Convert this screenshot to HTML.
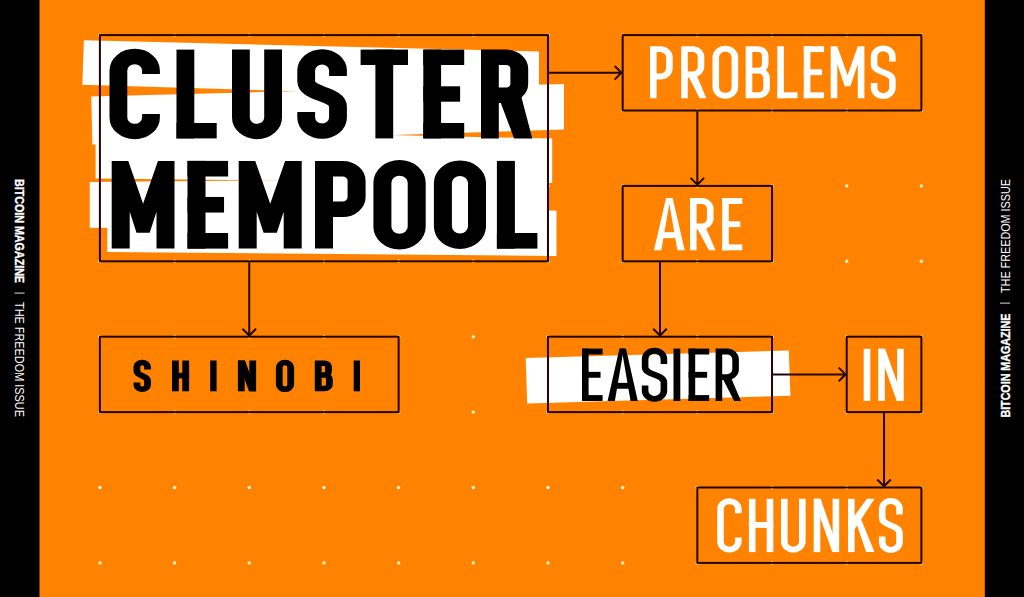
<!DOCTYPE html>
<html><head><meta charset="utf-8"><title>Cluster Mempool - Shinobi</title>
<style>
html,body{margin:0;padding:0;background:#ff8300;overflow:hidden;}
body{width:1024px;height:597px;font-family:"Liberation Sans",sans-serif;}
svg{display:block;}
</style></head><body>
<svg width="1024" height="597" viewBox="0 0 1024 597" role="img" aria-label="Cluster Mempool: problems are easier in chunks, by Shinobi. Bitcoin Magazine, The Freedom Issue">
<rect x="0" y="0" width="1024" height="597" fill="#ff8300"/>
<circle cx="99.9" cy="35.1" r="1.7" fill="#fff5d2"/>
<circle cx="99.9" cy="110.5" r="1.7" fill="#fff5d2"/>
<circle cx="99.9" cy="185.9" r="1.7" fill="#fff5d2"/>
<circle cx="99.9" cy="261.3" r="1.7" fill="#fff5d2"/>
<circle cx="99.9" cy="336.7" r="1.7" fill="#fff5d2"/>
<circle cx="99.9" cy="412.1" r="1.7" fill="#fff5d2"/>
<circle cx="99.9" cy="487.5" r="1.7" fill="#fff5d2"/>
<circle cx="99.9" cy="562.9" r="1.7" fill="#fff5d2"/>
<circle cx="174.58" cy="35.1" r="1.7" fill="#fff5d2"/>
<circle cx="174.58" cy="110.5" r="1.7" fill="#fff5d2"/>
<circle cx="174.58" cy="185.9" r="1.7" fill="#fff5d2"/>
<circle cx="174.58" cy="261.3" r="1.7" fill="#fff5d2"/>
<circle cx="174.58" cy="336.7" r="1.7" fill="#fff5d2"/>
<circle cx="174.58" cy="412.1" r="1.7" fill="#fff5d2"/>
<circle cx="174.58" cy="487.5" r="1.7" fill="#fff5d2"/>
<circle cx="174.58" cy="562.9" r="1.7" fill="#fff5d2"/>
<circle cx="249.26" cy="35.1" r="1.7" fill="#fff5d2"/>
<circle cx="249.26" cy="110.5" r="1.7" fill="#fff5d2"/>
<circle cx="249.26" cy="185.9" r="1.7" fill="#fff5d2"/>
<circle cx="249.26" cy="261.3" r="1.7" fill="#fff5d2"/>
<circle cx="249.26" cy="336.7" r="1.7" fill="#fff5d2"/>
<circle cx="249.26" cy="412.1" r="1.7" fill="#fff5d2"/>
<circle cx="249.26" cy="487.5" r="1.7" fill="#fff5d2"/>
<circle cx="249.26" cy="562.9" r="1.7" fill="#fff5d2"/>
<circle cx="323.94" cy="35.1" r="1.7" fill="#fff5d2"/>
<circle cx="323.94" cy="110.5" r="1.7" fill="#fff5d2"/>
<circle cx="323.94" cy="185.9" r="1.7" fill="#fff5d2"/>
<circle cx="323.94" cy="261.3" r="1.7" fill="#fff5d2"/>
<circle cx="323.94" cy="336.7" r="1.7" fill="#fff5d2"/>
<circle cx="323.94" cy="412.1" r="1.7" fill="#fff5d2"/>
<circle cx="323.94" cy="487.5" r="1.7" fill="#fff5d2"/>
<circle cx="323.94" cy="562.9" r="1.7" fill="#fff5d2"/>
<circle cx="398.62" cy="35.1" r="1.7" fill="#fff5d2"/>
<circle cx="398.62" cy="110.5" r="1.7" fill="#fff5d2"/>
<circle cx="398.62" cy="185.9" r="1.7" fill="#fff5d2"/>
<circle cx="398.62" cy="261.3" r="1.7" fill="#fff5d2"/>
<circle cx="398.62" cy="336.7" r="1.7" fill="#fff5d2"/>
<circle cx="398.62" cy="412.1" r="1.7" fill="#fff5d2"/>
<circle cx="398.62" cy="487.5" r="1.7" fill="#fff5d2"/>
<circle cx="398.62" cy="562.9" r="1.7" fill="#fff5d2"/>
<circle cx="473.3" cy="35.1" r="1.7" fill="#fff5d2"/>
<circle cx="473.3" cy="110.5" r="1.7" fill="#fff5d2"/>
<circle cx="473.3" cy="185.9" r="1.7" fill="#fff5d2"/>
<circle cx="473.3" cy="261.3" r="1.7" fill="#fff5d2"/>
<circle cx="473.3" cy="336.7" r="1.7" fill="#fff5d2"/>
<circle cx="473.3" cy="412.1" r="1.7" fill="#fff5d2"/>
<circle cx="473.3" cy="487.5" r="1.7" fill="#fff5d2"/>
<circle cx="473.3" cy="562.9" r="1.7" fill="#fff5d2"/>
<circle cx="547.98" cy="35.1" r="1.7" fill="#fff5d2"/>
<circle cx="547.98" cy="110.5" r="1.7" fill="#fff5d2"/>
<circle cx="547.98" cy="185.9" r="1.7" fill="#fff5d2"/>
<circle cx="547.98" cy="261.3" r="1.7" fill="#fff5d2"/>
<circle cx="547.98" cy="336.7" r="1.7" fill="#fff5d2"/>
<circle cx="547.98" cy="412.1" r="1.7" fill="#fff5d2"/>
<circle cx="547.98" cy="487.5" r="1.7" fill="#fff5d2"/>
<circle cx="547.98" cy="562.9" r="1.7" fill="#fff5d2"/>
<circle cx="622.66" cy="35.1" r="1.7" fill="#fff5d2"/>
<circle cx="622.66" cy="110.5" r="1.7" fill="#fff5d2"/>
<circle cx="622.66" cy="185.9" r="1.7" fill="#fff5d2"/>
<circle cx="622.66" cy="261.3" r="1.7" fill="#fff5d2"/>
<circle cx="622.66" cy="336.7" r="1.7" fill="#fff5d2"/>
<circle cx="622.66" cy="412.1" r="1.7" fill="#fff5d2"/>
<circle cx="622.66" cy="487.5" r="1.7" fill="#fff5d2"/>
<circle cx="622.66" cy="562.9" r="1.7" fill="#fff5d2"/>
<circle cx="697.34" cy="35.1" r="1.7" fill="#fff5d2"/>
<circle cx="697.34" cy="110.5" r="1.7" fill="#fff5d2"/>
<circle cx="697.34" cy="185.9" r="1.7" fill="#fff5d2"/>
<circle cx="697.34" cy="261.3" r="1.7" fill="#fff5d2"/>
<circle cx="697.34" cy="336.7" r="1.7" fill="#fff5d2"/>
<circle cx="697.34" cy="412.1" r="1.7" fill="#fff5d2"/>
<circle cx="697.34" cy="487.5" r="1.7" fill="#fff5d2"/>
<circle cx="697.34" cy="562.9" r="1.7" fill="#fff5d2"/>
<circle cx="772.02" cy="35.1" r="1.7" fill="#fff5d2"/>
<circle cx="772.02" cy="110.5" r="1.7" fill="#fff5d2"/>
<circle cx="772.02" cy="185.9" r="1.7" fill="#fff5d2"/>
<circle cx="772.02" cy="261.3" r="1.7" fill="#fff5d2"/>
<circle cx="772.02" cy="336.7" r="1.7" fill="#fff5d2"/>
<circle cx="772.02" cy="412.1" r="1.7" fill="#fff5d2"/>
<circle cx="772.02" cy="487.5" r="1.7" fill="#fff5d2"/>
<circle cx="772.02" cy="562.9" r="1.7" fill="#fff5d2"/>
<circle cx="846.7" cy="35.1" r="1.7" fill="#fff5d2"/>
<circle cx="846.7" cy="110.5" r="1.7" fill="#fff5d2"/>
<circle cx="846.7" cy="185.9" r="1.7" fill="#fff5d2"/>
<circle cx="846.7" cy="261.3" r="1.7" fill="#fff5d2"/>
<circle cx="846.7" cy="336.7" r="1.7" fill="#fff5d2"/>
<circle cx="846.7" cy="412.1" r="1.7" fill="#fff5d2"/>
<circle cx="846.7" cy="487.5" r="1.7" fill="#fff5d2"/>
<circle cx="846.7" cy="562.9" r="1.7" fill="#fff5d2"/>
<circle cx="921.38" cy="35.1" r="1.7" fill="#fff5d2"/>
<circle cx="921.38" cy="110.5" r="1.7" fill="#fff5d2"/>
<circle cx="921.38" cy="185.9" r="1.7" fill="#fff5d2"/>
<circle cx="921.38" cy="261.3" r="1.7" fill="#fff5d2"/>
<circle cx="921.38" cy="336.7" r="1.7" fill="#fff5d2"/>
<circle cx="921.38" cy="412.1" r="1.7" fill="#fff5d2"/>
<circle cx="921.38" cy="487.5" r="1.7" fill="#fff5d2"/>
<circle cx="921.38" cy="562.9" r="1.7" fill="#fff5d2"/>
<polygon points="83.9,40.2 539,51.6 539,98.5 82.3,84.7" fill="#ffffff"/>
<polygon points="91.3,96.5 564,84 564,129.5 92.4,144.6" fill="#ffffff"/>
<polygon points="95.6,128.5 552.2,138.6 552.2,183 95.6,178.6" fill="#ffffff"/>
<polygon points="89.8,182 547.6,178 547.6,232 89.8,227.7" fill="#ffffff"/>
<polygon points="107.3,216 556.5,210.6 556.5,255.9 107.3,252" fill="#ffffff"/>
<polygon points="525.7,358 788.8,350.5 790.4,395.8 527.2,403.4" fill="#ffffff"/>
<rect x="99.9" y="35.1" width="448.08" height="226.2" fill="none" stroke="#240400" stroke-width="2"/>
<rect x="622.66" y="35.1" width="298.72" height="75.4" fill="none" stroke="#240400" stroke-width="2"/>
<rect x="622.66" y="185.9" width="149.36" height="75.4" fill="none" stroke="#240400" stroke-width="2"/>
<rect x="99.9" y="336.7" width="298.72" height="75.4" fill="none" stroke="#240400" stroke-width="2"/>
<rect x="547.98" y="336.7" width="224.04" height="75.4" fill="none" stroke="#240400" stroke-width="2"/>
<rect x="846.7" y="336.7" width="74.68" height="75.4" fill="none" stroke="#240400" stroke-width="2"/>
<rect x="697.34" y="487.5" width="224.04" height="75.4" fill="none" stroke="#240400" stroke-width="2"/>
<path d="M547.98 72.8H621.66 M614.66 66L621.46 72.8L614.66 79.6" fill="none" stroke="#240400" stroke-width="2"/>
<path d="M697.34 110.5V184.9 M690.54 177.9L697.34 184.7L704.14 177.9" fill="none" stroke="#240400" stroke-width="2"/>
<path d="M660 261.3V335.7 M653.2 328.7L660 335.5L666.8 328.7" fill="none" stroke="#240400" stroke-width="2"/>
<path d="M772.02 374.4H845.7 M838.7 367.6L845.5 374.4L838.7 381.2" fill="none" stroke="#240400" stroke-width="2"/>
<path d="M884.04 412.1V486.5 M877.24 479.5L884.04 486.3L890.84 479.5" fill="none" stroke="#240400" stroke-width="2"/>
<path d="M249.26 261.3V335.7 M242.46 328.7L249.26 335.5L256.06 328.7" fill="none" stroke="#240400" stroke-width="2"/>
<path transform="translate(109.5 48.8) scale(1.1558 1)" d="M35.9 25.31L35.9 21.8A14.1 14.1 0 0 0 7.7 21.8L7.7 68.6A14.1 14.1 0 0 0 35.9 68.6L35.9 65.09" fill="none" stroke="#000000" stroke-width="15.4" stroke-linejoin="miter" stroke-linecap="butt"/><rect x="176.5" y="49.6" width="17.8" height="88.8" fill="#000000"/><rect x="176.5" y="123" width="40.2" height="15.4" fill="#000000"/><path transform="translate(232 49.6) scale(1.1558 1)" d="M7.7 0L7.7 67.97A13.93 13.93 0 0 0 35.56 67.97L35.56 0" fill="none" stroke="#000000" stroke-width="15.4" stroke-linejoin="miter" stroke-linecap="butt"/><path transform="translate(297.3 48.8) scale(1.1558 1)" d="M35.21 27.12L35.21 21.46A13.76 13.76 0 0 0 7.7 21.46L7.7 32.54C7.7 46.47 35.21 43.93 35.21 57.86L35.21 68.94A13.76 13.76 0 0 1 7.7 68.94L7.7 63.28" fill="none" stroke="#000000" stroke-width="15.4" stroke-linejoin="miter" stroke-linecap="butt"/><rect x="360.6" y="49.6" width="47.4" height="15.4" fill="#000000"/><rect x="375.4" y="49.6" width="17.8" height="88.8" fill="#000000"/><rect x="423.3" y="49.6" width="17.8" height="88.8" fill="#000000"/><rect x="423.3" y="49.6" width="40.9" height="15.4" fill="#000000"/><rect x="423.3" y="86.3" width="36.81" height="15.4" fill="#000000"/><rect x="423.3" y="123" width="40.9" height="15.4" fill="#000000"/><path transform="translate(481 49.6) scale(1.1558 1)" d="M7.7 88.8L7.7 7.7L21.77 7.7A11.36 11.36 0 0 1 33.13 19.06L33.13 34.22A11.36 11.36 0 0 1 21.77 45.58L7.7 45.58" fill="none" stroke="#000000" stroke-width="15.4" stroke-linejoin="miter" stroke-linecap="butt"/><polygon points="497.91,95.18 519.27,89.02 532.3,138.4 514.14,138.4" fill="#000000"/>
<polygon points="111.7,160.9 128.26,160.9 143.1,203.87 157.94,160.9 174.5,160.9 174.5,248.6 156.5,248.6 156.5,211.77 149.69,232.81 136.51,232.81 129.7,211.77 129.7,248.6 111.7,248.6" fill="#000000"/><rect x="187.5" y="160.9" width="18" height="87.7" fill="#000000"/><rect x="187.5" y="160.9" width="40.6" height="15.6" fill="#000000"/><rect x="187.5" y="196.95" width="36.54" height="15.6" fill="#000000"/><rect x="187.5" y="233" width="40.6" height="15.6" fill="#000000"/><polygon points="238.7,160.9 255.26,160.9 270.2,203.87 285.14,160.9 301.7,160.9 301.7,248.6 283.7,248.6 283.7,211.77 276.81,232.81 263.58,232.81 256.7,211.77 256.7,248.6 238.7,248.6" fill="#000000"/><path transform="translate(315 160.9) scale(1.1538 1)" d="M7.8 87.7L7.8 7.8L23.89 7.8A12.16 12.16 0 0 1 36.05 19.96L36.05 36.17A12.16 12.16 0 0 1 23.89 48.33L7.8 48.33" fill="none" stroke="#000000" stroke-width="15.6" stroke-linejoin="miter" stroke-linecap="butt"/><path transform="translate(373.4 160.1) scale(1.1538 1)" d="M7.8 22.66A14.86 14.86 0 0 1 37.53 22.66L37.53 66.64A14.86 14.86 0 0 1 7.8 66.64Z" fill="none" stroke="#000000" stroke-width="15.6" stroke-linejoin="miter" stroke-linecap="butt"/><path transform="translate(433.9 160.1) scale(1.1538 1)" d="M7.8 22.58A14.78 14.78 0 0 1 37.35 22.58L37.35 66.72A14.78 14.78 0 0 1 7.8 66.72Z" fill="none" stroke="#000000" stroke-width="15.6" stroke-linejoin="miter" stroke-linecap="butt"/><rect x="496.9" y="160.9" width="18" height="87.7" fill="#000000"/><rect x="496.9" y="233" width="40.5" height="15.6" fill="#000000"/>
<path transform="translate(650 46.2) scale(1.1186 1)" d="M2.95 52L2.95 2.95L9.13 2.95A8.21 8.21 0 0 1 17.34 11.16L17.34 22.12A8.21 8.21 0 0 1 9.13 30.33L2.95 30.33" fill="none" stroke="#ffffff" stroke-width="5.9" stroke-linejoin="miter" stroke-linecap="butt"/><path transform="translate(681.2 46.2) scale(1.1186 1)" d="M2.95 52L2.95 2.95L10.1 2.95A7.59 7.59 0 0 1 17.69 10.54L17.69 20.66A7.59 7.59 0 0 1 10.1 28.25L2.95 28.25" fill="none" stroke="#ffffff" stroke-width="5.9" stroke-linejoin="miter" stroke-linecap="butt"/><polygon points="687.47,74.45 695.39,72.09 706.3,98.2 699.57,98.2" fill="#ffffff"/><path transform="translate(712.5 45.4) scale(1.1186 1)" d="M2.95 11.49A8.54 8.54 0 0 1 20.02 11.49L20.02 42.11A8.54 8.54 0 0 1 2.95 42.11Z" fill="none" stroke="#ffffff" stroke-width="5.9" stroke-linejoin="miter" stroke-linecap="butt"/><path transform="translate(745.7 46.2) scale(1.1186 1)" d="M2.95 0L2.95 52M2.95 2.95L10.98 2.95A6.45 6.45 0 0 1 17.42 9.4L17.42 17.99A6.45 6.45 0 0 1 10.98 24.44L2.95 24.44M2.95 24.44L11.3 24.44A7.38 7.38 0 0 1 18.68 31.82L18.68 41.67A7.38 7.38 0 0 1 11.3 49.05L2.95 49.05" fill="none" stroke="#ffffff" stroke-width="5.9" stroke-linejoin="miter" stroke-linecap="butt"/><rect x="777.3" y="46.2" width="6.6" height="52" fill="#ffffff"/><rect x="777.3" y="92.3" width="20.2" height="5.9" fill="#ffffff"/><rect x="803.8" y="46.2" width="6.6" height="52" fill="#ffffff"/><rect x="803.8" y="46.2" width="20.3" height="5.9" fill="#ffffff"/><rect x="803.8" y="69.25" width="18.27" height="5.9" fill="#ffffff"/><rect x="803.8" y="92.3" width="20.3" height="5.9" fill="#ffffff"/><polygon points="830.7,46.2 837.3,46.2 847.55,75.32 857.8,46.2 864.4,46.2 864.4,98.2 857.8,98.2 857.8,63.88 850.41,86.24 844.69,86.24 837.3,63.88 837.3,98.2 830.7,98.2" fill="#ffffff"/><path transform="translate(870.8 45.4) scale(1.1186 1)" d="M19.31 16.08L19.31 11.13A8.18 8.18 0 0 0 2.95 11.13L2.95 19.3C2.95 27.55 19.31 26.05 19.31 34.3L19.31 42.47A8.18 8.18 0 0 1 2.95 42.47L2.95 37.52" fill="none" stroke="#ffffff" stroke-width="5.9" stroke-linejoin="miter" stroke-linecap="butt"/>
<polygon points="666.05,198.1 670.41,198.1 661.26,250.3 654,250.3" fill="#ffffff"/><polygon points="668.29,198.1 672.65,198.1 684.7,250.3 677.44,250.3" fill="#ffffff"/><rect x="660.14" y="232.21" width="18.42" height="5.9" fill="#ffffff"/><path transform="translate(690 198.1) scale(1.1186 1)" d="M2.95 52.2L2.95 2.95L10.48 2.95A7.63 7.63 0 0 1 18.1 10.58L18.1 20.74A7.63 7.63 0 0 1 10.48 28.37L2.95 28.37" fill="none" stroke="#ffffff" stroke-width="5.9" stroke-linejoin="miter" stroke-linecap="butt"/><polygon points="696.27,226.47 704.19,224.11 715.6,250.3 708.87,250.3" fill="#ffffff"/><rect x="722.2" y="198.1" width="6.6" height="52.2" fill="#ffffff"/><rect x="722.2" y="198.1" width="20.1" height="5.9" fill="#ffffff"/><rect x="722.2" y="221.25" width="18.09" height="5.9" fill="#ffffff"/><rect x="722.2" y="244.4" width="20.1" height="5.9" fill="#ffffff"/>
<rect x="582" y="348.6" width="6.6" height="52.4" fill="#000000"/><rect x="582" y="348.6" width="20.6" height="5.9" fill="#000000"/><rect x="582" y="371.85" width="18.54" height="5.9" fill="#000000"/><rect x="582" y="395.1" width="20.6" height="5.9" fill="#000000"/><polygon points="619.45,348.6 623.81,348.6 614.86,401 607.6,401" fill="#000000"/><polygon points="621.59,348.6 625.95,348.6 637.8,401 630.54,401" fill="#000000"/><rect x="613.64" y="382.85" width="18.12" height="5.9" fill="#000000"/><path transform="translate(641.8 347.8) scale(1.1186 1)" d="M19.76 16.2L19.76 11.35A8.4 8.4 0 0 0 2.95 11.35L2.95 19.44C2.95 27.76 19.76 26.24 19.76 34.56L19.76 42.65A8.4 8.4 0 0 1 2.95 42.65L2.95 37.8" fill="none" stroke="#000000" stroke-width="5.9" stroke-linejoin="miter" stroke-linecap="butt"/><rect x="673.5" y="348.6" width="6.8" height="52.4" fill="#000000"/><rect x="688.6" y="348.6" width="6.6" height="52.4" fill="#000000"/><rect x="688.6" y="348.6" width="20.6" height="5.9" fill="#000000"/><rect x="688.6" y="371.85" width="18.54" height="5.9" fill="#000000"/><rect x="688.6" y="395.1" width="20.6" height="5.9" fill="#000000"/><path transform="translate(715.6 348.6) scale(1.1186 1)" d="M2.95 52.4L2.95 2.95L10.2 2.95A7.66 7.66 0 0 1 17.86 10.61L17.86 20.83A7.66 7.66 0 0 1 10.2 28.49L2.95 28.49" fill="none" stroke="#000000" stroke-width="5.9" stroke-linejoin="miter" stroke-linecap="butt"/><polygon points="721.87,377.09 729.79,374.73 740.9,401 734.17,401" fill="#000000"/>
<rect x="863.7" y="348.8" width="6.6" height="52.1" fill="#ffffff"/><rect x="878.2" y="348.8" width="6.6" height="52.1" fill="#ffffff"/><rect x="897.1" y="348.8" width="6.6" height="52.1" fill="#ffffff"/><polygon points="878.2,348.8 885.13,348.8 903.7,400.9 896.77,400.9" fill="#ffffff"/>
<path transform="translate(717.2 498) scale(1.1186 1)" d="M18.86 15.37L18.86 10.91A7.96 7.96 0 0 0 2.95 10.91L2.95 43.99A7.96 7.96 0 0 0 18.86 43.99L18.86 39.53" fill="none" stroke="#ffffff" stroke-width="5.9" stroke-linejoin="miter" stroke-linecap="butt"/><rect x="748.9" y="498.8" width="6.6" height="53.3" fill="#ffffff"/><rect x="766.7" y="498.8" width="6.6" height="53.3" fill="#ffffff"/><rect x="748.9" y="521.97" width="24.4" height="5.9" fill="#ffffff"/><path transform="translate(781 498.8) scale(1.1186 1)" d="M2.95 0L2.95 43.1A8.05 8.05 0 0 0 19.04 43.1L19.04 0" fill="none" stroke="#ffffff" stroke-width="5.9" stroke-linejoin="miter" stroke-linecap="butt"/><rect x="813.7" y="498.8" width="6.6" height="53.3" fill="#ffffff"/><rect x="832.6" y="498.8" width="6.6" height="53.3" fill="#ffffff"/><polygon points="813.7,498.8 820.63,498.8 839.2,552.1 832.27,552.1" fill="#ffffff"/><rect x="848" y="498.8" width="6.6" height="53.3" fill="#ffffff"/><polygon points="851.3,520.12 866.91,498.8 874.5,498.8 851.3,534.51" fill="#ffffff"/><polygon points="855.57,521.04 859.45,515.34 874.5,552.1 866.15,552.1" fill="#ffffff"/><path transform="translate(878.9 498) scale(1.1186 1)" d="M18.42 16.47L18.42 10.68A7.73 7.73 0 0 0 2.95 10.68L2.95 19.76C2.95 28.22 18.42 26.68 18.42 35.14L18.42 44.22A7.73 7.73 0 0 1 2.95 44.22L2.95 38.43" fill="none" stroke="#ffffff" stroke-width="5.9" stroke-linejoin="miter" stroke-linecap="butt"/>
<path transform="translate(133.5 359.7) scale(1.2143 1)" d="M11.53 9.72L11.53 7.16A4.36 4.36 0 0 0 2.8 7.16L2.8 11.66C2.8 16.65 11.53 15.75 11.53 20.74L11.53 25.24A4.36 4.36 0 0 1 2.8 25.24L2.8 22.68" fill="none" stroke="#000000" stroke-width="5.6" stroke-linejoin="miter" stroke-linecap="butt"/><rect x="172" y="360.5" width="6.8" height="30.8" fill="#000000"/><rect x="182.3" y="360.5" width="6.8" height="30.8" fill="#000000"/><rect x="172" y="372.79" width="17.1" height="5.6" fill="#000000"/><rect x="210.2" y="360.5" width="6.4" height="30.8" fill="#000000"/><rect x="237.9" y="360.5" width="6.8" height="30.8" fill="#000000"/><rect x="249.3" y="360.5" width="6.8" height="30.8" fill="#000000"/><polygon points="237.9,360.5 245.04,360.5 256.1,391.3 248.96,391.3" fill="#000000"/><path transform="translate(275.9 359.7) scale(1.2143 1)" d="M2.8 7.49A4.69 4.69 0 0 1 12.19 7.49L12.19 24.91A4.69 4.69 0 0 1 2.8 24.91Z" fill="none" stroke="#000000" stroke-width="5.6" stroke-linejoin="miter" stroke-linecap="butt"/><path transform="translate(314.8 360.5) scale(1.2143 1)" d="M2.8 0L2.8 30.8M2.8 2.8L7.78 2.8A3.5 3.5 0 0 1 11.29 6.3L11.29 10.97A3.5 3.5 0 0 1 7.78 14.48L2.8 14.48M2.8 14.48L7.97 14.48A4.06 4.06 0 0 1 12.02 18.53L12.02 23.94A4.06 4.06 0 0 1 7.97 28L2.8 28" fill="none" stroke="#000000" stroke-width="5.6" stroke-linejoin="miter" stroke-linecap="butt"/><rect x="353.7" y="360.5" width="6.3" height="30.8" fill="#000000"/>
<rect x="0" y="0" width="39.5" height="597" fill="#000"/>
<rect x="984.8" y="0" width="40" height="597" fill="#000"/>
<g transform="translate(14.8 0) rotate(90)"><text x="179" y="0" font-family="Liberation Sans, sans-serif" font-weight="bold" font-size="12.4" fill="#fff" stroke="#fff" stroke-width="0.35" textLength="104" lengthAdjust="spacingAndGlyphs">BITCOIN MAGAZINE</text><text x="302" y="0" font-family="Liberation Sans, sans-serif" font-size="12.8" fill="#fff" textLength="115" lengthAdjust="spacingAndGlyphs">THE FREEDOM ISSUE</text></g>
<rect x="14.6" y="292.6" width="10" height="1" fill="#ddd"/>
<g transform="translate(1009.6 0) rotate(-90)"><text x="-417.6" y="0" font-family="Liberation Sans, sans-serif" font-weight="bold" font-size="12.4" fill="#fff" stroke="#fff" stroke-width="0.35" textLength="104" lengthAdjust="spacingAndGlyphs">BITCOIN MAGAZINE</text><text x="-293" y="0" font-family="Liberation Sans, sans-serif" font-size="12.8" fill="#fff" textLength="114" lengthAdjust="spacingAndGlyphs">THE FREEDOM ISSUE</text></g>
<rect x="1000" y="302.6" width="10" height="1" fill="#ddd"/>
</svg>
</body></html>
